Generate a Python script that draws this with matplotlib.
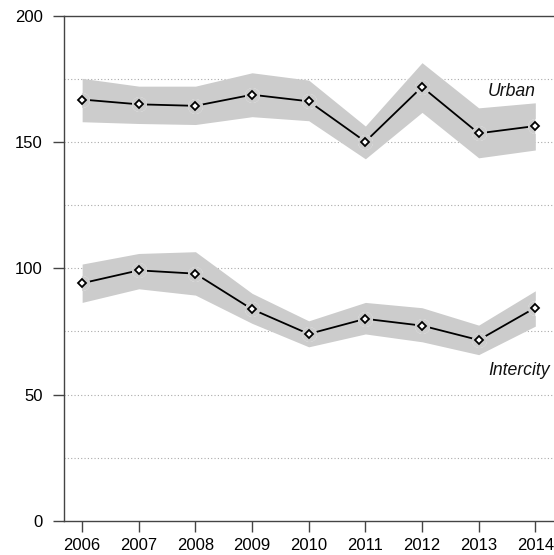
import matplotlib
matplotlib.use("Agg")
import matplotlib.pyplot as plt

plt.rcParams['font.family'] = ['Liberation Sans', 'DejaVu Sans']

years = [2006, 2007, 2008, 2009, 2010, 2011, 2012, 2013, 2014]

urban = [166.9, 165.0, 164.4, 168.8, 166.2, 150.2, 171.9, 153.5, 156.4]
urban_hi = [175.3, 172.2, 172.2, 177.5, 174.6, 156.4, 181.5, 163.6, 165.6]
urban_lo = [158.1, 157.4, 157.0, 160.1, 158.5, 143.4, 161.8, 143.8, 146.9]

intercity = [94.1, 99.2, 97.9, 83.8, 74.0, 80.0, 77.3, 71.6, 84.4]
intercity_hi = [101.7, 105.9, 106.6, 90.1, 79.2, 86.5, 84.4, 77.5, 91.1]
intercity_lo = [86.5, 91.9, 89.4, 78.2, 68.9, 74.0, 70.9, 65.8, 77.1]

yticks = [0, 50, 100, 150, 200]
grid_levels = [25, 50, 75, 100, 125, 150, 175]

band_color = '#CCCCCC'

fig = plt.figure(figsize=(5.54, 5.55), dpi=100)
ax = fig.add_axes([64/554, 34.3/555, 490/554, 504.7/555])

for g in grid_levels:
    ax.axhline(g, color='#AAAAAA', lw=0.8, ls=(0, (1, 2)), zorder=0)

for mid, lo, hi in [(urban, urban_lo, urban_hi), (intercity, intercity_lo, intercity_hi)]:
    band = ax.fill_between(years, lo, hi, color=band_color, lw=0, zorder=1)
    ax.plot(years, mid, color='black', lw=1.3, zorder=2)
    # gap around markers (white outside the band, grey inside)
    halo_w, = ax.plot(years, mid, ls='none', marker='o', ms=10.8, mfc='white', mec='none', zorder=2.5)
    halo_g, = ax.plot(years, mid, ls='none', marker='o', ms=10.8, mfc=band_color, mec='none', zorder=3)
    halo_g.set_clip_path(band.get_paths()[0], ax.transData)
    ax.plot(years, mid, ls='none', marker='D', ms=4.5, mfc='white', mec='black', mew=1.3, zorder=4)

ax.text(2014, 170, 'Urban', style='italic', fontsize=12.7, ha='right', va='center', color='#111111')
ax.text(2014.25, 59.7, 'Intercity', style='italic', fontsize=12.7, ha='right', va='center', color='#111111')

ax.set_xlim(2005.68, 2014.33)
ax.set_ylim(0, 200)
ax.set_xticks(years)
ax.set_xticklabels([str(y) for y in years])
ax.set_yticks(yticks)
ax.set_yticklabels([str(v) for v in yticks])

for s in ['left', 'top', 'bottom']:
    ax.spines[s].set_color('#444444')
    ax.spines[s].set_linewidth(1.0)
ax.spines['right'].set_visible(False)

ax.tick_params(axis='both', length=8, width=1.0, color='#444444', labelsize=12, labelcolor='black')
ax.tick_params(axis='y', pad=7.4)
ax.tick_params(axis='x', pad=4.3)

fig.savefig('out.png', dpi=100)
